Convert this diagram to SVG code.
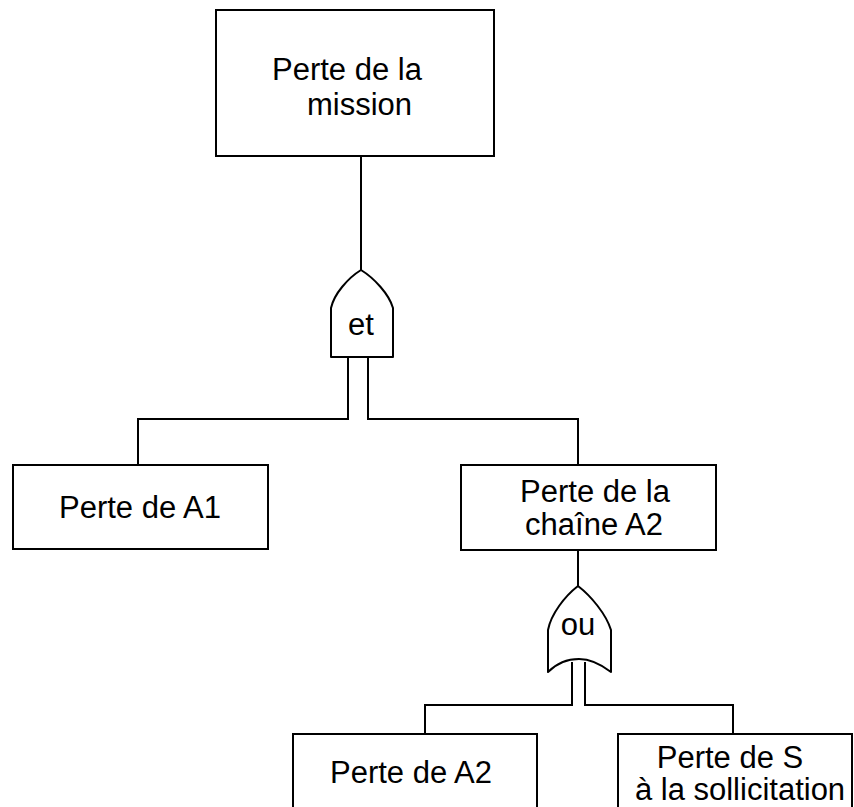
<svg xmlns="http://www.w3.org/2000/svg" width="854" height="807" viewBox="0 0 854 807">
  <style>
    .box { fill: #fff; stroke: #000; stroke-width: 2; }
    .gate { fill: #fff; stroke: #000; stroke-width: 2; stroke-linejoin: round; }
    .wire { fill: none; stroke: #000; stroke-width: 2; }
    .lbl { font-family: "Liberation Sans", Arial, sans-serif; font-size: 31px; fill: #000; }
  </style>
  <rect width="854" height="807" fill="#fff"/>

  <!-- connectors -->
  <g id="connectors">
    <line class="wire" x1="361" y1="156" x2="361" y2="270"/>
    <polyline class="wire" points="348,357 348,419 138,419 138,465"/>
    <polyline class="wire" points="368,357 368,419 578,419 578,465"/>
    <line class="wire" x1="578" y1="550" x2="578" y2="586"/>
    <polyline class="wire" points="572,662 572,705 425,705 425,734"/>
    <polyline class="wire" points="585,662 585,705 733,705 733,734"/>
  </g>

  <!-- top event -->
  <g id="mission">
    <rect class="box" x="216" y="10" width="278" height="146"/>
    <text class="lbl" x="272" y="80">Perte de la</text>
    <text class="lbl" x="307" y="115">mission</text>
  </g>

  <!-- AND gate -->
  <g id="gate-et">
    <path class="gate" d="M331,357 L331,308 C334,294 348,278 361,270 C374,278 389,294 393,308 L393,357 Z"/>
    <text class="lbl" x="361" y="335" text-anchor="middle">et</text>
  </g>

  <g id="a1">
    <rect class="box" x="13" y="465" width="255" height="84"/>
    <text class="lbl" x="140" y="518" text-anchor="middle">Perte de A1</text>
  </g>

  <g id="chaine-a2">
    <rect class="box" x="461" y="465" width="255" height="85"/>
    <text class="lbl" x="595" y="502" text-anchor="middle">Perte de la</text>
    <text class="lbl" x="594" y="535" text-anchor="middle">chaîne A2</text>
  </g>

  <!-- OR gate -->
  <g id="gate-ou">
    <path class="gate" d="M548,672 L548,630 C551,614 565,596 578,586 C591,596 606,614 611,630 L611,672 C598,662 588,659 579,659 C570,659 558,662 548,672 Z"/>
    <text class="lbl" x="578" y="635" text-anchor="middle">ou</text>
  </g>

  <g id="a2">
    <rect class="box" x="293" y="734" width="244" height="90"/>
    <text class="lbl" x="411" y="783" text-anchor="middle">Perte de A2</text>
  </g>

  <g id="sollicitation">
    <rect class="box" x="618" y="734" width="234" height="90"/>
    <text class="lbl" x="730" y="768" text-anchor="middle">Perte de S</text>
    <text class="lbl" x="740" y="800" text-anchor="middle">à la sollicitation</text>
  </g>
</svg>
